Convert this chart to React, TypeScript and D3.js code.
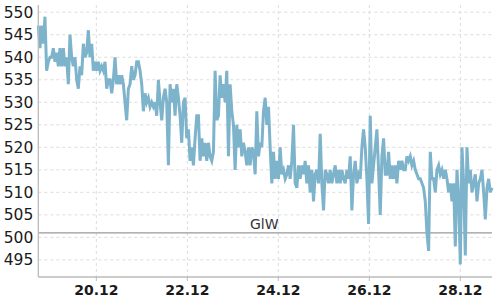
import React from "react";
import * as d3 from "d3";

const startTime = new Date(2023, 11, 18, 17, 24);
const endTime = new Date(2023, 11, 28, 16, 42);

const levelValues = [
  547, 542, 547, 543, 549, 537,
  539, 540, 540, 542, 539, 541, 538, 542, 538, 542,
  538, 540, 534, 545, 540, 538, 540, 535, 533, 538,
  536, 543, 540, 541, 546, 540, 543, 537, 539, 537,
  539, 537, 538, 537, 539, 533, 535, 535, 532, 535,
  540, 534, 536, 534, 536, 534, 530, 526, 533, 534,
  538, 535, 536, 539, 539, 537, 534, 528, 532, 530,
  531, 529, 530, 529, 530, 527, 535, 530, 526, 531,
  533, 530, 516, 534, 530, 533, 527, 534, 531, 527,
  521, 530, 531, 522, 524, 517, 520, 516, 522, 527,
  527, 517, 522, 518, 521, 517, 521, 518, 517, 519,
  537, 526, 527, 536, 531, 534, 530, 537, 518, 534,
  528, 525, 515, 525, 520, 524, 518, 521, 519, 516,
  520, 516, 520, 519, 514, 528, 518, 521, 520, 528,
  531, 525, 529, 520, 512, 519, 513, 517, 513, 520,
  514, 515, 513, 514, 516, 513, 517, 525, 512, 511,
  516, 513, 516, 514, 517, 512, 516, 510, 515, 508,
  514, 515, 512, 523, 512, 506, 515, 514, 512, 515,
  512, 514, 516, 512, 515, 512, 515, 513, 512, 515,
  513, 518, 506, 514, 517, 512, 514, 513, 520, 524,
  520, 513, 503, 527, 512, 516, 520, 524, 515, 505,
  518, 522, 514, 514, 519, 513, 516, 513, 516, 512,
  517, 515, 517, 515, 515, 518, 517, 518, 516, 517,
  515, 514, 513, 513, 512, 511, 508, 501, 497, 519,
  513, 513, 510, 515, 516, 514, 515, 513, 515, 513,
  510, 512, 508, 512, 498, 515, 509, 494, 520, 512,
  496, 520, 512, 515, 510, 512, 514, 508, 512, 513,
  515, 510, 504, 511, 513, 510, 511,
];

const yTicks = [495, 500, 505, 510, 515, 520, 525, 530, 535, 540, 545, 550];
const xTickDates = [
  new Date(2023, 11, 20),
  new Date(2023, 11, 22),
  new Date(2023, 11, 24),
  new Date(2023, 11, 26),
  new Date(2023, 11, 28),
];
const yDomain = [491.2, 551.6];
const glwValue = 501;
const glwLabel = "GlW";

const W = 500;
const H = 300;
const left = 38.3;
const right = 492;
const top = 5;
const bottom = 277;

export default function App() {
  const n = levelValues.length;
  const span = endTime.getTime() - startTime.getTime();
  const data = levelValues.map((v, i) => ({
    t: new Date(startTime.getTime() + (span * i) / (n - 1)),
    v,
  }));

  const x = d3.scaleTime().domain([startTime, endTime]).range([left, right]);
  const y = d3.scaleLinear().domain(yDomain).range([bottom, top]);
  const fmt = d3.timeFormat("%d.%m");

  const line = d3
    .line<{ t: Date; v: number }>()
    .x((d) => x(d.t))
    .y((d) => y(d.v));

  const font = "DejaVu Sans, sans-serif";

  return (
    <svg
      width={W}
      height={H}
      style={{ position: "absolute", left: 0, top: 0, background: "#fff" }}
    >
      <g>
        {yTicks.map((t) => (
          <line
            key={"gy" + t}
            x1={left}
            x2={right}
            y1={y(t)}
            y2={y(t)}
            stroke="#dcdcdc"
            strokeWidth={1}
            strokeDasharray="3,3"
          />
        ))}
        {xTickDates.map((d, i) => (
          <line
            key={"gx" + i}
            x1={x(d)}
            x2={x(d)}
            y1={top}
            y2={bottom}
            stroke="#dcdcdc"
            strokeWidth={1}
            strokeDasharray="3,3"
          />
        ))}
      </g>
      <line
        x1={left}
        x2={right}
        y1={y(glwValue)}
        y2={y(glwValue)}
        stroke="#999"
        strokeWidth={1.3}
      />
      <text
        x={x(xTickDates[2]) - 14}
        y={y(glwValue) - 4}
        textAnchor="middle"
        fontFamily={font}
        fontSize={14}
        fill="#333"
      >
        {glwLabel}
      </text>
      <path
        d={line(data) || ""}
        fill="none"
        stroke="#7eb3cc"
        strokeWidth={3}
      />
      <line x1={left} x2={left} y1={top} y2={bottom} stroke="#bbb" strokeWidth={1.3} />
      <line x1={left} x2={right} y1={bottom} y2={bottom} stroke="#bbb" strokeWidth={1.3} />
      {yTicks.map((t) => (
        <text
          key={"ly" + t}
          x={left - 5}
          y={y(t)}
          dy="0.36em"
          textAnchor="end"
          fontFamily={font}
          fontSize={15.5}
          fill="#1a1a1a"
        >
          {t}
        </text>
      ))}
      {xTickDates.map((d, i) => (
        <g key={"lx" + i}>
          <line x1={x(d)} x2={x(d)} y1={bottom} y2={bottom + 4} stroke="#bbb" />
          <text
            x={x(d)}
            y={bottom + 18}
            textAnchor="middle"
            fontFamily={font}
            fontSize={14}
            fontWeight="bold"
            fill="#1a1a1a"
          >
            {fmt(d)}
          </text>
        </g>
      ))}
    </svg>
  );
}
